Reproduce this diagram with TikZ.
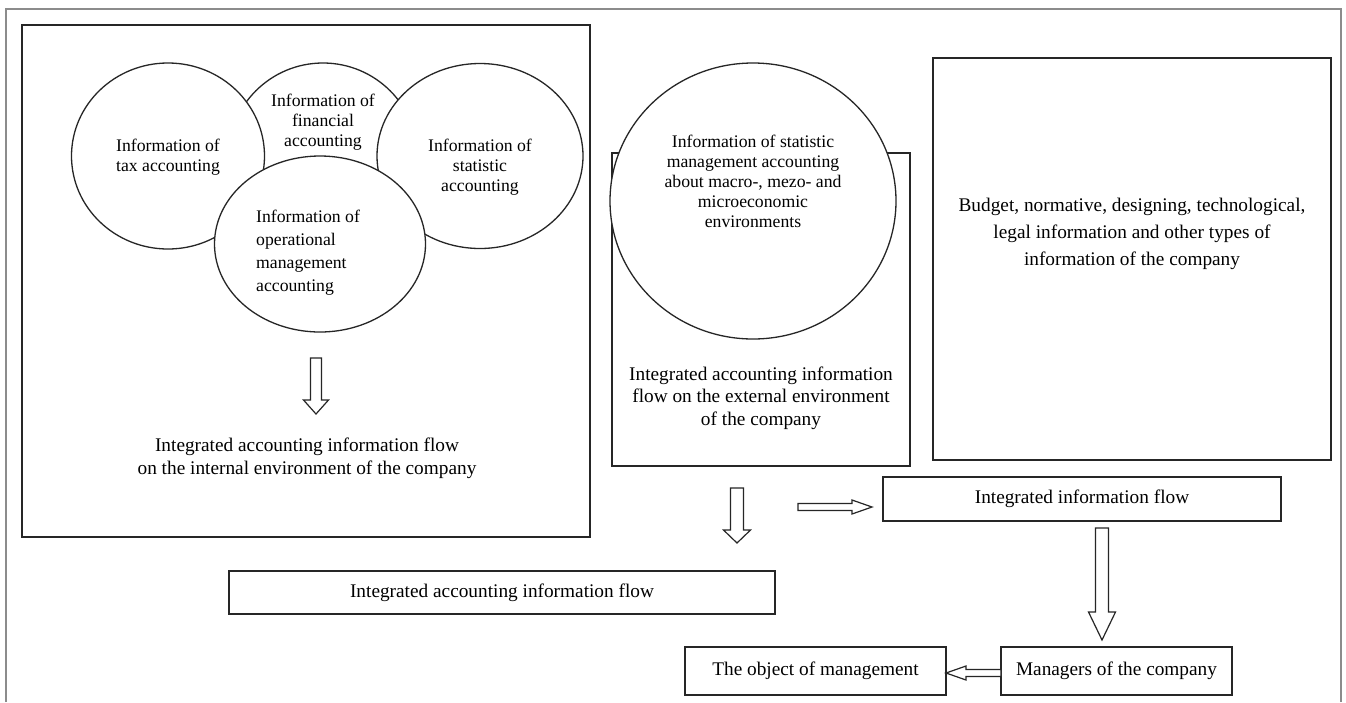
\documentclass[tikz,border=0pt]{standalone}
\usepackage{fontspec}
\setmainfont{Liberation Serif}
\usetikzlibrary{shapes.geometric}
\newcommand\vblockarrow[6]{% x, ytop, yhead, ytip, shaft half, head half
  \draw[arrowline] (#1-#5,#2) -- (#1+#5,#2) -- (#1+#5,#3) -- (#1+#6,#3) -- (#1,#4) -- (#1-#6,#3) -- (#1-#5,#3) -- cycle;}
\newcommand\hblockarrow[6]{% y, xstart, xhead, xtip, shaft half, head half
  \draw[arrowline] (#2,#1-#5) -- (#2,#1+#5) -- (#3,#1+#5) -- (#3,#1+#6) -- (#4,#1) -- (#3,#1-#6) -- (#3,#1-#5) -- cycle;}
\begin{document}
\begin{tikzpicture}[x=1pt,y=-1pt,
  box/.style={draw=black!85, line width=1.5pt},
  ell/.style={draw=black!85, line width=1.3pt, fill=white, ellipse, inner sep=0pt},
  arrowline/.style={draw=black!85, line width=1.2pt, fill=white},
  btext/.style={font=\fontsize{19.3}{23}\selectfont, align=center, inner sep=0pt},
  ctext/.style={font=\fontsize{17.7}{20}\selectfont, align=center, inner sep=0pt}]
\useasboundingbox (0,0) rectangle (1346,702);
\fill[white] (0,0) rectangle (1346,702);
% outer frame
\draw[black!45, line width=1.2pt] (6,702) -- (6,9) -- (1341,9) -- (1341,702);

% left box
\draw[box] (22,25) rectangle (590,537);
\node[ell, minimum width=190, minimum height=190] (fin) at (323,158) {};
\node[ell, minimum width=193, minimum height=186] (tax) at (168,156) {};
\node[ell, minimum width=206, minimum height=185] (stat) at (480,156) {};
\node[ell, minimum width=211, minimum height=176] (oper) at (320,244) {};
\node[ctext] (taxt) at (168,157) {Information of\\tax accounting};
\node[ctext] (fint) at (323,122) {Information of\\financial\\accounting};
\node[ctext] (statt) at (480,167) {Information of\\statistic\\accounting};
\node[ctext, font=\fontsize{17.7}{23}\selectfont, align=left, anchor=west] (opert) at (256,253) {Information of\\operational\\management\\accounting};
\vblockarrow{316}{358}{400}{414}{5.5}{12.5}
\node[btext] (intt) at (307,458) {Integrated accounting information flow\\on the internal environment of the company};

% middle box
\draw[box] (612,153) rectangle (910,466);
\node[ell, minimum width=286, minimum height=276] (extell) at (753,201) {};
\node[ctext] (extellt) at (753,181) {Information of statistic\\management accounting\\about macro-, mezo- and\\microeconomic\\environments};
\node[btext, font=\fontsize{19.3}{22.5}\selectfont] (extt) at (761,398) {Integrated accounting information\\flow on the external environment\\of the company};

% right box
\draw[box] (933,58) rectangle (1331,460);
\node[btext, font=\fontsize{19.3}{27}\selectfont] (rightt) at (1132,234) {Budget, normative, designing, technological,\\legal information and other types of\\information of the company};

% lower boxes
\node[box, btext, minimum width=398, minimum height=44] (iif) at (1082,499) {Integrated information flow};
\node[box, btext, minimum width=546, minimum height=43] (iaf) at (502,592.5) {Integrated accounting information flow};
\node[box, btext, minimum width=261, minimum height=48] (obj) at (815.5,671) {The object of management};
\node[box, btext, minimum width=231, minimum height=48] (mgr) at (1116.5,671) {Managers of the company};

% arrows
\vblockarrow{737}{488}{530}{543}{6.5}{13.5}
\hblockarrow{507}{798}{852}{872}{3.5}{7}
\vblockarrow{1102}{528}{612}{640}{6.5}{13.5}
\hblockarrow{673}{1001}{966}{946}{3.5}{7}
\end{tikzpicture}
\end{document}
